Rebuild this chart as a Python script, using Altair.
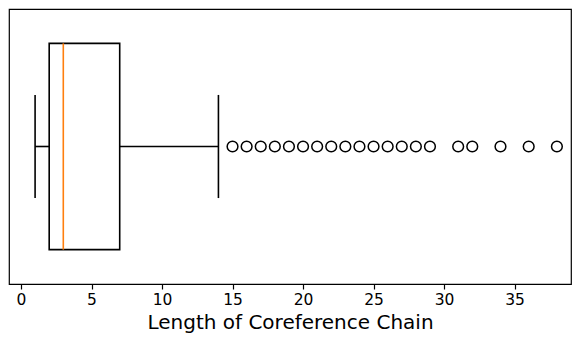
import altair as alt
import pandas as pd

# Box statistics
whisker_low = [1]
q1 = [2]
median = [3]
q3 = [7]
whisker_high = [14]
outliers = [15, 16, 17, 18, 19, 20, 21, 22, 23, 24, 25, 26, 27, 28, 29, 31, 32, 34, 36, 38]
tick_values = [0, 5, 10, 15, 20, 25, 30, 35]

stats = pd.DataFrame({
    "lo": whisker_low, "q1": q1, "med": median, "q3": q3, "hi": whisker_high,
})
out_df = pd.DataFrame({"v": outliers})

xscale = alt.Scale(domain=[-0.85, 39.0], nice=False, zero=False)
yscale = alt.Scale(domain=[0.5, 1.5], nice=False, zero=False)
xaxis = alt.Axis(values=tick_values, grid=False, domain=False, tickColor="black",
                 tickSize=5, tickWidth=1.2, labelColor="black", labelFontSize=15.5,
                 labelFont="DejaVu Sans", labelPadding=3, titleFont="DejaVu Sans",
                 titleFontSize=20, titleFontWeight="normal", titleColor="black",
                 titlePadding=5, labelFlush=False)

base = alt.Chart(stats)

box = base.mark_rect(fill=None, stroke="black", strokeWidth=1.6).encode(
    x=alt.X("q1:Q", scale=xscale, axis=xaxis, title="Length of Coreference Chain"),
    x2="q3:Q",
    y=alt.Y("y1:Q", scale=yscale, axis=None),
    y2="y2:Q",
).transform_calculate(y1="0.625", y2="1.375")

whisk_l = base.mark_rule(color="black", strokeWidth=1.6).encode(
    x="lo:Q", x2="q1:Q", y=alt.Y("yc:Q", scale=yscale)
).transform_calculate(yc="1")
whisk_r = base.mark_rule(color="black", strokeWidth=1.6).encode(
    x="q3:Q", x2="hi:Q", y=alt.Y("yc:Q", scale=yscale)
).transform_calculate(yc="1")
cap_l = base.mark_rule(color="black", strokeWidth=1.6).encode(
    x="lo:Q", y=alt.Y("c1:Q", scale=yscale), y2="c2:Q"
).transform_calculate(c1="0.8125", c2="1.1875")
cap_r = base.mark_rule(color="black", strokeWidth=1.6).encode(
    x="hi:Q", y=alt.Y("c1:Q", scale=yscale), y2="c2:Q"
).transform_calculate(c1="0.8125", c2="1.1875")
med = base.mark_rule(color="#ff7f0e", strokeWidth=1.6).encode(
    x="med:Q", y=alt.Y("y1:Q", scale=yscale), y2="y2:Q"
).transform_calculate(y1="0.625", y2="1.375")

pts = alt.Chart(out_df).mark_point(shape="circle", filled=False, color="black",
                                   strokeWidth=1.5, size=115, opacity=1).encode(
    x=alt.X("v:Q", scale=xscale),
    y=alt.Y("yc:Q", scale=yscale),
).transform_calculate(yc="1")

chart = alt.layer(box, whisk_l, whisk_r, cap_l, cap_r, med, pts).properties(
    width=562, height=275,
    autosize=alt.AutoSizeParams(type="none"),
    padding={"left": 1, "top": 1, "right": 1, "bottom": 54},
).configure_view(stroke="black", strokeWidth=1.2)

chart.save("out.html", embed_options={"renderer": "svg", "actions": False})
